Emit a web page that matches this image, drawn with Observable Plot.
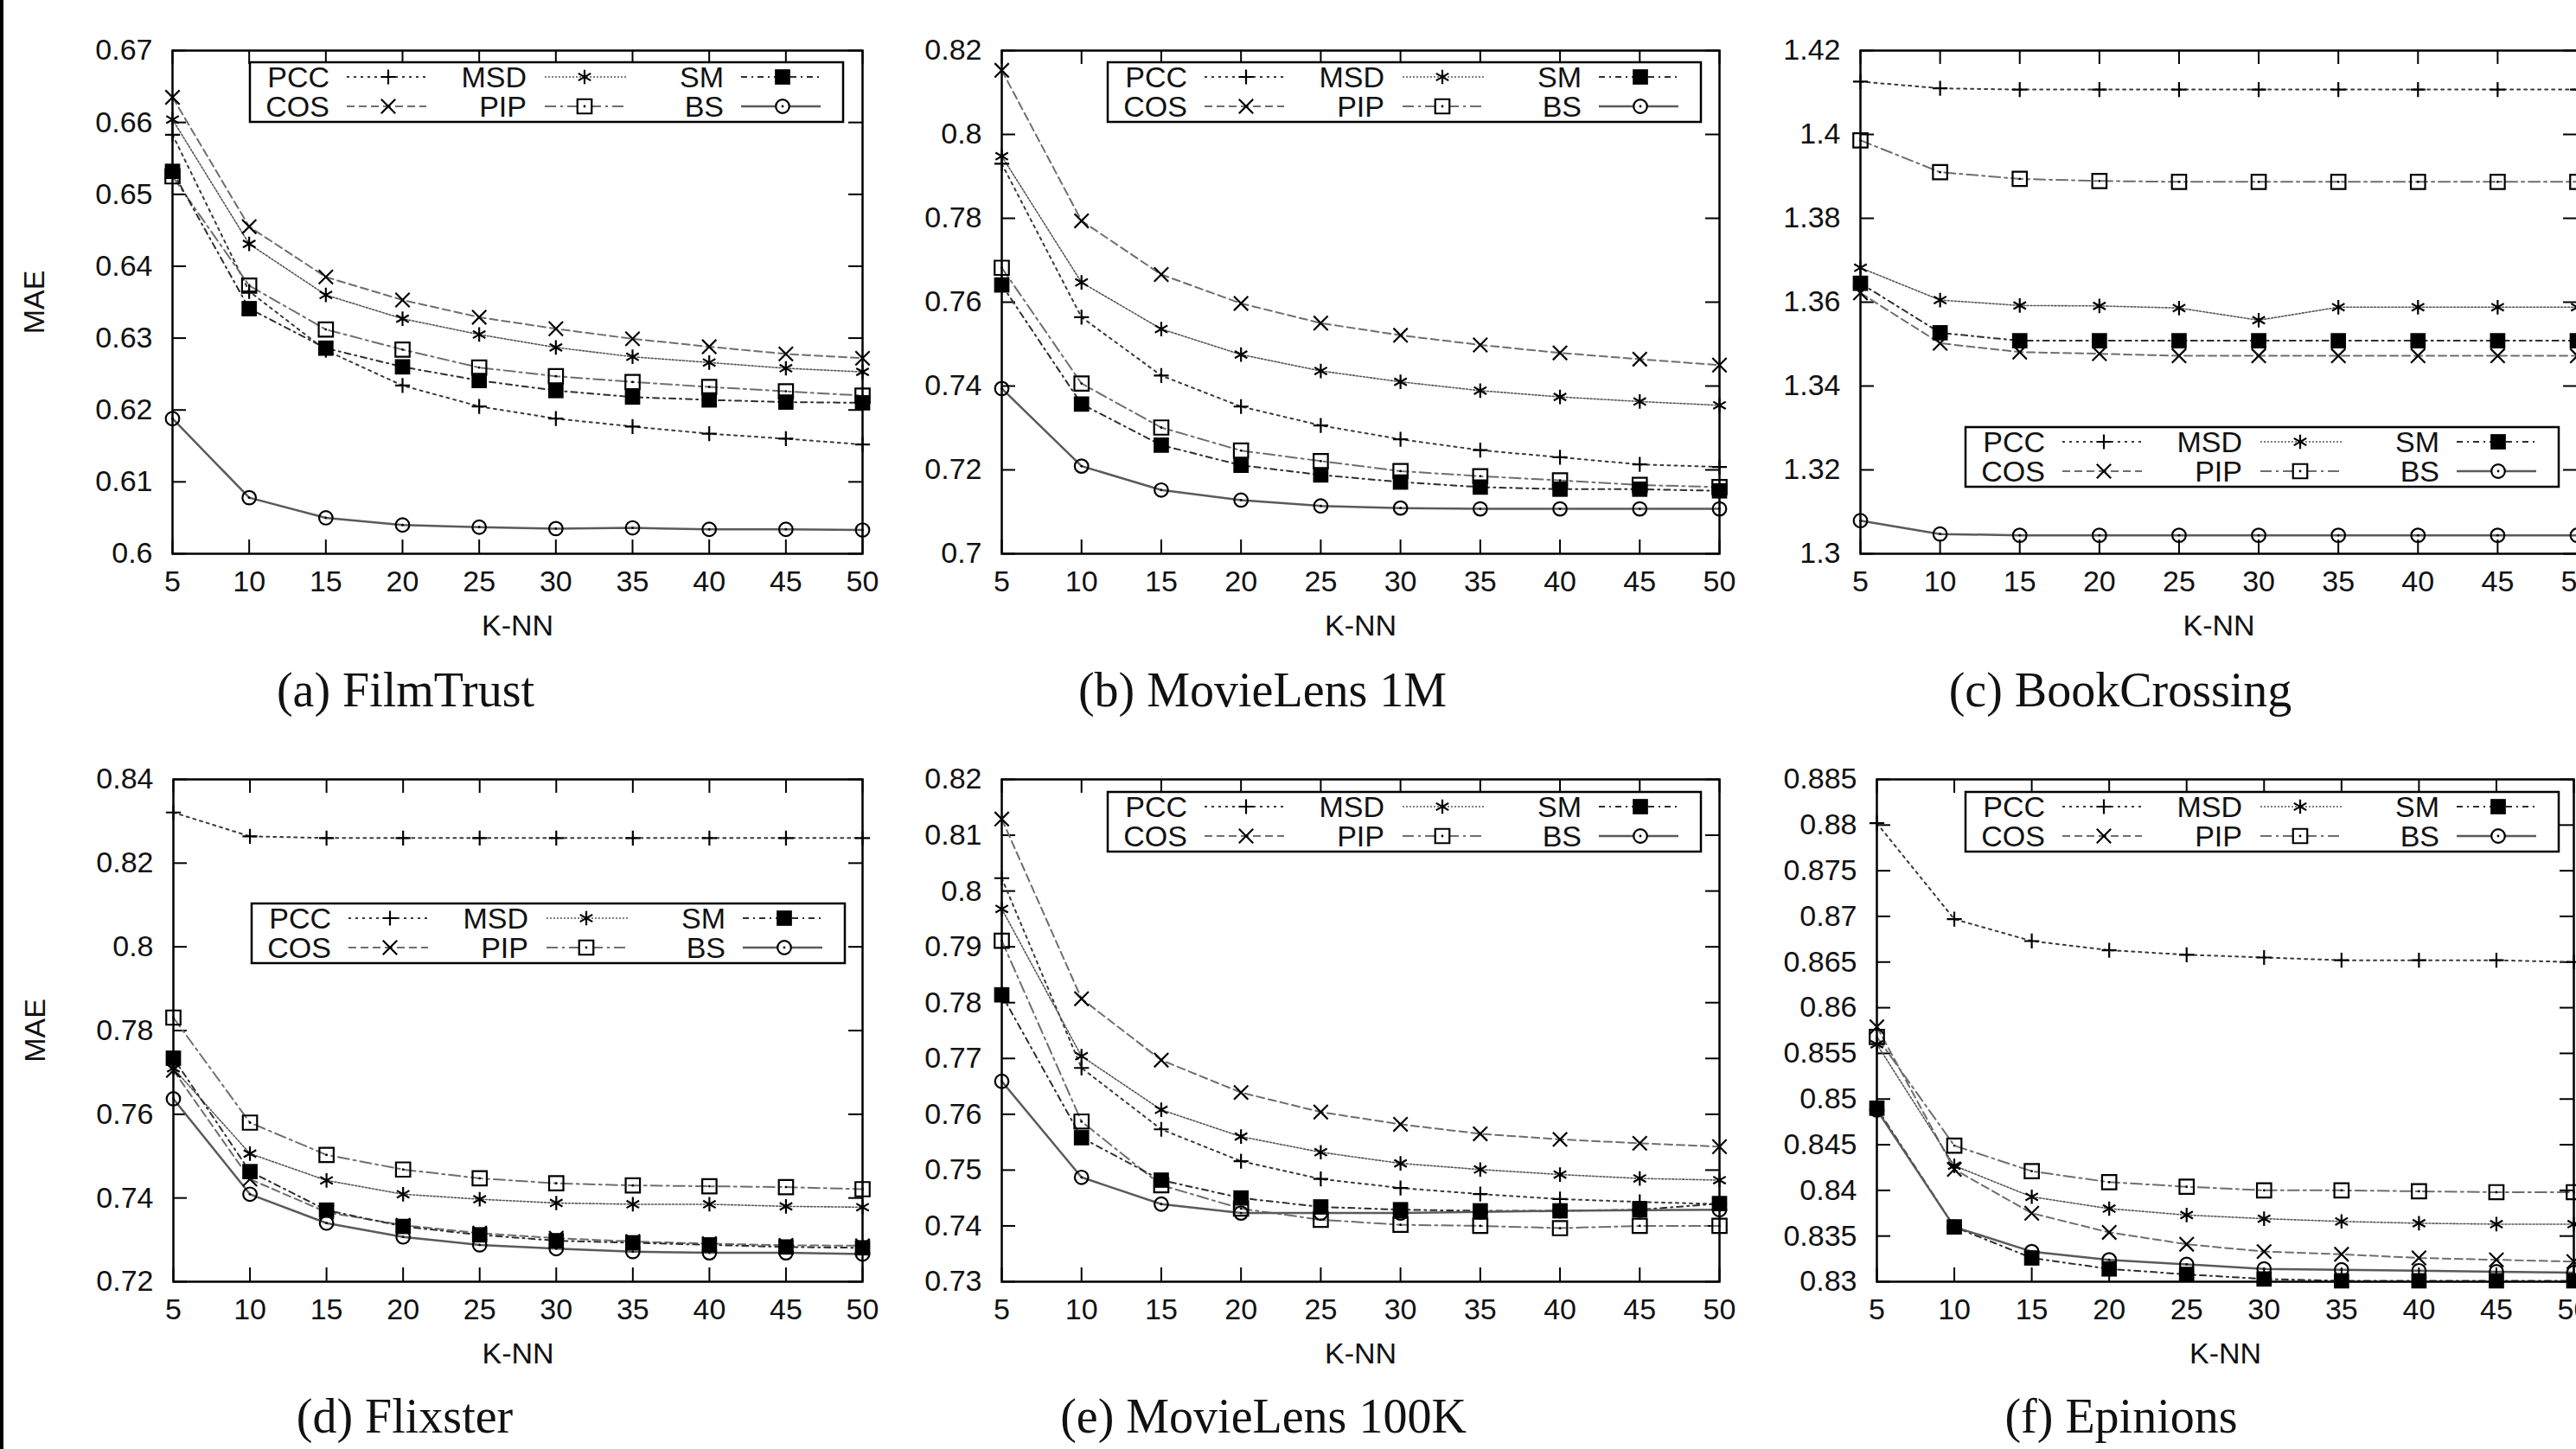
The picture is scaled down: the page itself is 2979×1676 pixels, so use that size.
<!DOCTYPE html>
<html><head><meta charset="utf-8">
<script src="https://cdn.jsdelivr.net/npm/d3@7"></script>
<script src="https://cdn.jsdelivr.net/npm/@observablehq/plot@0.6"></script>
<style>
html,body{margin:0;padding:0;background:#fff;overflow:hidden;width:2979px;height:1676px;}
#root{position:relative;width:2979px;height:1676px;overflow:hidden;background:#fff;}
.panel{position:absolute;}
.panel svg{max-width:none !important;overflow:visible;}
.caption{position:absolute;font-family:"Liberation Serif","Times New Roman",serif;font-size:56px;color:#111;transform:translate(-50%,-50%);white-space:nowrap;}
.edge{position:absolute;left:0;top:0;width:4px;height:1676px;background:#000;}
</style></head>
<body><div id="root"><div class="edge"></div></div>
<script>
// ---------- data ----------
const kValues = [5, 10, 15, 20, 25, 30, 35, 40, 45, 50];
const seriesNames = ["PCC", "COS", "MSD", "PIP", "SM", "BS"];

// (a) FilmTrust
const filmTrustPCC = [0.6583, 0.6365, 0.6283, 0.6234, 0.6205, 0.6188, 0.6177, 0.6167, 0.6160, 0.6152];
const filmTrustCOS = [0.6635, 0.6455, 0.6385, 0.6353, 0.6329, 0.6313, 0.6299, 0.6288, 0.6278, 0.6272];
const filmTrustMSD = [0.6604, 0.6431, 0.6360, 0.6327, 0.6305, 0.6287, 0.6274, 0.6266, 0.6258, 0.6253];
const filmTrustPIP = [0.6525, 0.6373, 0.6312, 0.6284, 0.6259, 0.6247, 0.6239, 0.6232, 0.6226, 0.6220];
const filmTrustSM  = [0.6532, 0.6341, 0.6286, 0.6260, 0.6241, 0.6227, 0.6218, 0.6214, 0.6211, 0.6210];
const filmTrustBS  = [0.6188, 0.6078, 0.6050, 0.6040, 0.6037, 0.6035, 0.6036, 0.6034, 0.6034, 0.6033];
const filmTrustYTicks = [0.6, 0.61, 0.62, 0.63, 0.64, 0.65, 0.66, 0.67];

// (b) MovieLens 1M
const ml1mPCC = [0.7930, 0.7564, 0.7425, 0.7351, 0.7306, 0.7273, 0.7247, 0.7230, 0.7213, 0.7207];
const ml1mCOS = [0.8153, 0.7794, 0.7666, 0.7597, 0.7550, 0.7521, 0.7498, 0.7479, 0.7464, 0.7450];
const ml1mMSD = [0.7948, 0.7647, 0.7536, 0.7475, 0.7436, 0.7410, 0.7389, 0.7374, 0.7363, 0.7354];
const ml1mPIP = [0.7682, 0.7406, 0.7301, 0.7246, 0.7221, 0.7197, 0.7185, 0.7175, 0.7164, 0.7159];
const ml1mSM  = [0.7641, 0.7357, 0.7259, 0.7211, 0.7188, 0.7171, 0.7159, 0.7154, 0.7154, 0.7150];
const ml1mBS  = [0.7394, 0.7209, 0.7152, 0.7128, 0.7114, 0.7109, 0.7107, 0.7107, 0.7107, 0.7107];
const ml1mYTicks = [0.7, 0.72, 0.74, 0.76, 0.78, 0.8, 0.82];

// (c) BookCrossing
const bookPCC = [1.4126, 1.4110, 1.4107, 1.4107, 1.4107, 1.4107, 1.4107, 1.4107, 1.4107, 1.4107];
const bookCOS = [1.3622, 1.3502, 1.3481, 1.3477, 1.3472, 1.3472, 1.3472, 1.3472, 1.3472, 1.3472];
const bookMSD = [1.3682, 1.3605, 1.3592, 1.3591, 1.3586, 1.3557, 1.3588, 1.3588, 1.3588, 1.3588];
const bookPIP = [1.3986, 1.3910, 1.3894, 1.3889, 1.3887, 1.3887, 1.3887, 1.3887, 1.3887, 1.3887];
const bookSM  = [1.3645, 1.3527, 1.3508, 1.3508, 1.3508, 1.3508, 1.3508, 1.3508, 1.3508, 1.3508];
const bookBS  = [1.3079, 1.3047, 1.3044, 1.3044, 1.3044, 1.3044, 1.3044, 1.3044, 1.3044, 1.3044];
const bookYTicks = [1.3, 1.32, 1.34, 1.36, 1.38, 1.4, 1.42];

// (d) Flixster
const flixPCC = [0.8321, 0.8264, 0.8260, 0.8260, 0.8260, 0.8260, 0.8260, 0.8260, 0.8260, 0.8260];
const flixCOS = [0.7705, 0.7445, 0.7366, 0.7335, 0.7316, 0.7304, 0.7296, 0.7291, 0.7287, 0.7286];
const flixMSD = [0.7710, 0.7506, 0.7442, 0.7409, 0.7397, 0.7388, 0.7385, 0.7385, 0.7380, 0.7378];
const flixPIP = [0.7831, 0.7580, 0.7503, 0.7468, 0.7447, 0.7435, 0.7430, 0.7428, 0.7426, 0.7421];
const flixSM  = [0.7734, 0.7463, 0.7371, 0.7332, 0.7312, 0.7298, 0.7293, 0.7288, 0.7283, 0.7281];
const flixBS  = [0.7637, 0.7409, 0.7340, 0.7307, 0.7288, 0.7279, 0.7272, 0.7269, 0.7269, 0.7266];
const flixYTicks = [0.72, 0.74, 0.76, 0.78, 0.8, 0.82, 0.84];

// (e) MovieLens 100K
const ml100kPCC = [0.8023, 0.7683, 0.7573, 0.7516, 0.7484, 0.7468, 0.7457, 0.7448, 0.7443, 0.7439];
const ml100kCOS = [0.8129, 0.7807, 0.7697, 0.7639, 0.7604, 0.7582, 0.7565, 0.7555, 0.7548, 0.7542];
const ml100kMSD = [0.7968, 0.7704, 0.7608, 0.7560, 0.7532, 0.7512, 0.7501, 0.7492, 0.7485, 0.7482];
const ml100kPIP = [0.7911, 0.7587, 0.7473, 0.7431, 0.7411, 0.7402, 0.7400, 0.7396, 0.7400, 0.7400];
const ml100kSM  = [0.7814, 0.7558, 0.7482, 0.7450, 0.7434, 0.7429, 0.7427, 0.7427, 0.7429, 0.7440];
const ml100kBS  = [0.7659, 0.7487, 0.7439, 0.7423, 0.7423, 0.7423, 0.7425, 0.7427, 0.7428, 0.7429];
const ml100kYTicks = [0.73, 0.74, 0.75, 0.76, 0.77, 0.78, 0.79, 0.8, 0.81, 0.82];

// (f) Epinions
const epinPCC = [0.8802, 0.8697, 0.8673, 0.8663, 0.8658, 0.8655, 0.8652, 0.8652, 0.8652, 0.8650];
const epinCOS = [0.8579, 0.8423, 0.8375, 0.8354, 0.8341, 0.8333, 0.8330, 0.8326, 0.8324, 0.8322];
const epinMSD = [0.8560, 0.8427, 0.8393, 0.8380, 0.8373, 0.8369, 0.8366, 0.8364, 0.8363, 0.8363];
const epinPIP = [0.8568, 0.8449, 0.8421, 0.8409, 0.8404, 0.8400, 0.8400, 0.8399, 0.8398, 0.8398];
const epinSM  = [0.8490, 0.8360, 0.8326, 0.8314, 0.8308, 0.8303, 0.8301, 0.8301, 0.8301, 0.8301];
const epinBS  = [0.8488, 0.8360, 0.8333, 0.8324, 0.8319, 0.8314, 0.8313, 0.8312, 0.8311, 0.8310];
const epinYTicks = [0.83, 0.835, 0.84, 0.845, 0.85, 0.855, 0.86, 0.865, 0.87, 0.875, 0.88, 0.885];

const captions = ["(a) FilmTrust", "(b) MovieLens 1M", "(c) BookCrossing", "(d) Flixster", "(e) MovieLens 100K", "(f) Epinions"];
const xLabel = "K-NN";
const yLabel = "MAE";

// ---------- styles ----------
const lineStyle = {
  PCC: {stroke: "#3a3a3a", dash: "3,5", width: 2},
  COS: {stroke: "#6e6e6e", dash: "9,5", width: 2},
  MSD: {stroke: "#555", dash: "2,2", width: 1.6},
  PIP: {stroke: "#6e6e6e", dash: "13,5,3,5", width: 2},
  SM:  {stroke: "#2e2e2e", dash: "7,5,2,5", width: 2},
  BS:  {stroke: "#5a5a5a", dash: null, width: 2.5}
};
const markStyle = {
  PCC: {symbol: "plus", r: 5.6, fill: "none", stroke: "#000", center: false},
  COS: {symbol: "times", r: 7.5, fill: "none", stroke: "#000", center: false},
  MSD: {symbol: "asterisk", r: 7.9, fill: "none", stroke: "#000", center: false},
  PIP: {symbol: "square2", r: 10.5, fill: "none", stroke: "#000", center: true},
  SM:  {symbol: "square", r: 10, fill: "#000", stroke: "none", center: false},
  BS:  {symbol: "circle", r: 7.8, fill: "none", stroke: "#000", center: true}
};
const d3Symbols = {plus: d3.symbolPlus, times: d3.symbolTimes, asterisk: d3.symbolAsterisk, square2: d3.symbolSquare2, square: d3.symbolSquare, circle: d3.symbolCircle};

// ---------- layout ----------
const panels = [
  {series: [filmTrustPCC, filmTrustCOS, filmTrustMSD, filmTrustPIP, filmTrustSM, filmTrustBS], yTicks: filmTrustYTicks, x0: 199, x1: 997, y0: 58, y1: 640, legend: [289, 72], yLab: true, cap: [469, 798]},
  {series: [ml1mPCC, ml1mCOS, ml1mMSD, ml1mPIP, ml1mSM, ml1mBS], yTicks: ml1mYTicks, x0: 1158, x1: 1988, y0: 58, y1: 640, legend: [1281, 72], yLab: false, cap: [1460, 798]},
  {series: [bookPCC, bookCOS, bookMSD, bookPIP, bookSM, bookBS], yTicks: bookYTicks, x0: 2151, x1: 2980, y0: 58, y1: 640, legend: [2273, 494], yLab: false, cap: [2452, 798]},
  {series: [flixPCC, flixCOS, flixMSD, flixPIP, flixSM, flixBS], yTicks: flixYTicks, x0: 200, x1: 997, y0: 901, y1: 1482, legend: [291, 1045], yLab: true, cap: [468, 1638]},
  {series: [ml100kPCC, ml100kCOS, ml100kMSD, ml100kPIP, ml100kSM, ml100kBS], yTicks: ml100kYTicks, x0: 1158, x1: 1988, y0: 901, y1: 1482, legend: [1281, 916], yLab: false, cap: [1461, 1638]},
  {series: [epinPCC, epinCOS, epinMSD, epinPIP, epinSM, epinBS], yTicks: epinYTicks, x0: 2170, x1: 2976, y0: 901, y1: 1482, legend: [2273, 916], yLab: false, cap: [2453, 1638]}
];

const root = document.getElementById("root");
const FONT = "'Liberation Sans', Arial, Helvetica, sans-serif";
const FS = 34;
const TICK = 16;

panels.forEach((p, pi) => {
  const rows = [];
  seriesNames.forEach((name, si) => {
    p.series[si].forEach((v, i) => rows.push({series: name, k: kValues[i], value: v}));
  });
  const yMin = p.yTicks[0], yMax = p.yTicks[p.yTicks.length - 1];
  const W = p.x1 - p.x0, H = p.y1 - p.y0;
  const mL = 200, mR = 40, mT = 20, mB = 130;
  const dyData = TICK / H * (yMax - yMin);
  const dxData = TICK / W * (kValues[kValues.length - 1] - kValues[0]);
  const kMin = kValues[0], kMax = kValues[kValues.length - 1];

  const marks = [];
  // inward ticks on all four sides
  marks.push(Plot.ruleX(kValues, {x: d => d, y1: yMin, y2: yMin + dyData, stroke: "#000", strokeWidth: 2}));
  marks.push(Plot.ruleX(kValues, {x: d => d, y1: yMax, y2: yMax - dyData, stroke: "#000", strokeWidth: 2}));
  marks.push(Plot.ruleY(p.yTicks, {y: d => d, x1: kMin, x2: kMin + dxData, stroke: "#000", strokeWidth: 2}));
  marks.push(Plot.ruleY(p.yTicks, {y: d => d, x1: kMax, x2: kMax - dxData, stroke: "#000", strokeWidth: 2}));
  // lines
  seriesNames.forEach(name => {
    const s = lineStyle[name];
    marks.push(Plot.line(rows.filter(d => d.series === name), {
      x: "k", y: "value", stroke: s.stroke, strokeWidth: s.width,
      strokeDasharray: s.dash || undefined, curve: "linear"
    }));
  });
  // markers
  seriesNames.forEach(name => {
    const m = markStyle[name];
    const data = rows.filter(d => d.series === name);
    marks.push(Plot.dot(data, {x: "k", y: "value", symbol: m.symbol, r: m.r, fill: m.fill, stroke: m.stroke, strokeWidth: 2.2}));
    if (m.center) marks.push(Plot.dot(data, {x: "k", y: "value", r: 1.4, fill: "#000", stroke: "none"}));
  });
  // axes labels
  marks.push(Plot.axisX({ticks: kValues, tickSize: 0, tickPadding: 19, label: null, fontSize: FS, tickFormat: d => String(d)}));
  marks.push(Plot.axisY({ticks: p.yTicks, tickSize: 0, tickPadding: 23, label: null, fontSize: FS, tickFormat: d => String(d)}));
  marks.push(Plot.frame({stroke: "#000", strokeWidth: 2.5}));
  marks.push(Plot.text([xLabel], {text: d => d, frameAnchor: "bottom", lineAnchor: "middle", textAnchor: "middle", dy: 84, fontSize: FS, fill: "#111"}));
  if (p.yLab) marks.push(Plot.text([yLabel], {text: d => d, frameAnchor: "left", textAnchor: "middle", lineAnchor: "middle", dx: -159, rotate: -90, fontSize: FS, fill: "#111"}));

  const chart = Plot.plot({
    width: mL + W + mR, height: mT + H + mB,
    marginLeft: mL, marginRight: mR, marginTop: mT, marginBottom: mB,
    x: {domain: [kMin, kMax]},
    y: {domain: [yMin, yMax]},
    style: {fontFamily: FONT, fontSize: FS + "px", color: "#111", background: "transparent", overflow: "visible", maxWidth: "none"},
    marks
  });
  const div = document.createElement("div");
  div.className = "panel";
  div.style.left = (p.x0 - mL) + "px";
  div.style.top = (p.y0 - mT) + "px";
  div.appendChild(chart);
  root.appendChild(div);

  // legend box
  const [L, T] = p.legend;
  const lw = 686, lh = 69;
  const svg = d3.select(root).append("svg")
    .style("position", "absolute").style("left", (L - 5) + "px").style("top", (T - 5) + "px")
    .attr("width", lw + 10).attr("height", lh + 10);
  const g = svg.append("g").attr("transform", "translate(5,5)");
  g.append("rect").attr("width", lw).attr("height", lh).attr("fill", "#fff").attr("stroke", "#000").attr("stroke-width", 2.5);
  const cols = [{tx: 92, s0: 112, s1: 204, m: 160}, {tx: 320, s0: 341, s1: 435, m: 387}, {tx: 548, s0: 568, s1: 660, m: 616}];
  const rowY = [17, 51];
  seriesNames.forEach((name, i) => {
    const c = cols[Math.floor(i / 2)], y = rowY[i % 2];
    g.append("text").attr("x", c.tx).attr("y", y).attr("dy", "0.36em").attr("text-anchor", "end")
      .attr("font-family", FONT).attr("font-size", FS).attr("fill", "#111").text(name);
    const s = lineStyle[name];
    g.append("line").attr("x1", c.s0).attr("x2", c.s1).attr("y1", y).attr("y2", y)
      .attr("stroke", s.stroke).attr("stroke-width", s.width).attr("stroke-dasharray", s.dash);
    const m = markStyle[name];
    g.append("path").attr("transform", `translate(${c.m},${y})`)
      .attr("d", d3.symbol(d3Symbols[m.symbol], m.r * m.r * Math.PI)())
      .attr("fill", m.fill === "none" ? "#fff" : m.fill).attr("stroke", m.stroke).attr("stroke-width", 2.2);
    if (m.center) g.append("circle").attr("cx", c.m).attr("cy", y).attr("r", 1.4).attr("fill", "#000");
  });

  // caption
  const cap = document.createElement("div");
  cap.className = "caption";
  cap.style.left = p.cap[0] + "px";
  cap.style.top = p.cap[1] + "px";
  cap.textContent = captions[pi];
  root.appendChild(cap);
});
</script>
</body></html>
